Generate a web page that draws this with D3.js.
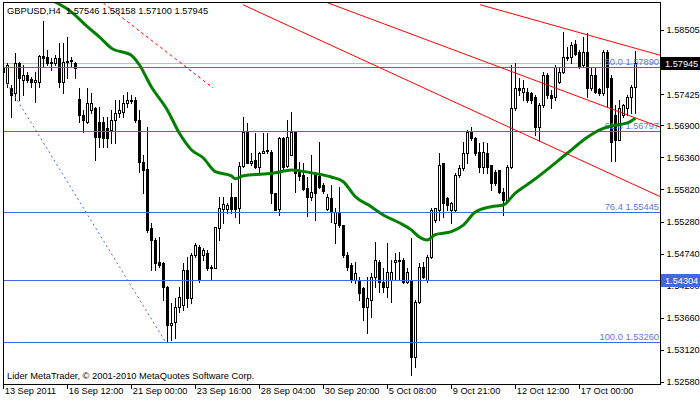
<!DOCTYPE html>
<html><head><meta charset="utf-8">
<script src="https://cdn.jsdelivr.net/npm/d3@7"></script>
<style>
html,body{margin:0;padding:0;background:#fff;}
svg{display:block;font-family:"Liberation Sans",Arial,sans-serif;}
</style></head><body>
<svg id="c" width="700" height="402"></svg>
<script>
const headerText = "GBPUSD,H4  1.57546 1.58158 1.57100 1.57945";
const copyrightText = "Lider MetaTrader, \u00a9 2001-2010 MetaQuotes Software Corp.";

const opens = [
1.5787,1.5761,1.5753,1.5744,1.5795,1.5766,1.5775,1.5768,1.5763,1.5763,
1.5807,1.5805,1.5795,1.5795,1.5803,1.5763,1.5797,1.5798,1.5795,1.5734,
1.5707,1.5696,1.5716,1.5719,1.5696,1.5696,1.5686,1.5682,1.5699,1.5711,
1.5713,1.5728,1.5733,1.5733,1.5699,1.5628,1.5617,1.5517,1.5497,1.5460,
1.5458,1.5418,1.5354,1.5359,1.5384,1.5388,1.5447,1.5399,1.5472,1.5485,
1.5472,1.5475,1.5452,1.5450,1.5517,1.5549,1.5549,1.5570,1.5570,1.5551,
1.5622,1.5679,1.5627,1.5632,1.5620,1.5643,1.5647,1.5645,1.5576,1.5549,
1.5669,1.5622,1.5640,1.5679,1.5612,1.5606,1.5585,1.5570,1.5606,1.5605,
1.5590,1.5549,1.5568,1.5526,1.5543,1.5522,1.5472,1.5455,1.5430,1.5430,
1.5416,1.5384,1.5396,1.5435,1.5460,1.5426,1.5418,1.5430,1.5460,1.5462,
1.5463,1.5426,1.5430,1.5300,1.5393,1.5452,1.5430,1.5469,1.5531,1.5548,
1.5627,1.5568,1.5548,1.5548,1.5606,1.5618,1.5643,1.5679,1.5669,1.5645,
1.5620,1.5643,1.5623,1.5612,1.5615,1.5578,1.5564,1.5620,1.5719,1.5753,
1.5746,1.5746,1.5744,1.5738,1.5687,1.5724,1.5775,1.5741,1.5738,1.5763,
1.5780,1.5805,1.5805,1.5827,1.5813,1.5792,1.5813,1.5753,1.5775,1.5751,
1.5744,1.5813,1.5770,1.5707,1.5665,1.5707,1.5719,1.5738,1.57546];
const highs = [
1.5792,1.5795,1.5758,1.5812,1.5797,1.5792,1.5780,1.5771,1.5780,1.5808,
1.5866,1.5817,1.5803,1.5808,1.5829,1.5829,1.5839,1.5805,1.5797,1.5753,
1.5716,1.5753,1.5744,1.5721,1.5721,1.5704,1.5704,1.5716,1.5733,1.5733,
1.5741,1.5746,1.5741,1.5738,1.5716,1.5640,1.5687,1.5526,1.5501,1.5502,
1.5460,1.5420,1.5391,1.5399,1.5418,1.5458,1.5469,1.5475,1.5492,1.5489,
1.5484,1.5480,1.5455,1.5519,1.5570,1.5570,1.5559,1.5593,1.5570,1.5628,
1.5704,1.5694,1.5643,1.5677,1.5645,1.5677,1.5677,1.5649,1.5576,1.5670,
1.5670,1.5699,1.5713,1.5679,1.5628,1.5627,1.5603,1.5640,1.5612,1.5662,
1.5593,1.5575,1.5590,1.5551,1.5586,1.5522,1.5477,1.5458,1.5460,1.5435,
1.5418,1.5435,1.5442,1.5494,1.5463,1.5450,1.5492,1.5463,1.5475,1.5477,
1.5467,1.5450,1.5501,1.5396,1.5458,1.5460,1.5472,1.5551,1.5551,1.5643,
1.5627,1.5570,1.5561,1.5610,1.5623,1.5662,1.5682,1.5687,1.5670,1.5660,
1.5662,1.5660,1.5623,1.5615,1.5615,1.5585,1.5623,1.5792,1.5795,1.5770,
1.5766,1.5753,1.5746,1.5741,1.5728,1.5780,1.5778,1.5750,1.5792,1.5788,
1.5847,1.5822,1.5830,1.5834,1.5817,1.5839,1.5845,1.5788,1.5787,1.5753,
1.5817,1.5817,1.5775,1.5724,1.5733,1.5726,1.5741,1.5758,1.58158];
const lows = [
1.5766,1.5755,1.5704,1.5733,1.5733,1.5741,1.5763,1.5755,1.5729,1.5755,
1.5788,1.5792,1.5783,1.5792,1.5755,1.5744,1.5770,1.5788,1.5770,1.5696,
1.5679,1.5694,1.5711,1.5632,1.5654,1.5654,1.5654,1.5660,1.5660,1.5704,
1.5704,1.5721,1.5728,1.5696,1.5612,1.5576,1.5511,1.5447,1.5447,1.5452,
1.5396,1.5326,1.5329,1.5332,1.5376,1.5379,1.5384,1.5391,1.5469,1.5426,
1.5463,1.5447,1.5430,1.5450,1.5497,1.5526,1.5543,1.5543,1.5536,1.5526,
1.5620,1.5627,1.5623,1.5618,1.5610,1.5643,1.5643,1.5559,1.5548,1.5539,
1.5615,1.5620,1.5640,1.5578,1.5598,1.5581,1.5537,1.5564,1.5531,1.5585,
1.5576,1.5548,1.5527,1.5492,1.5519,1.5469,1.5447,1.5426,1.5425,1.5396,
1.5362,1.5341,1.5368,1.5418,1.5410,1.5410,1.5401,1.5393,1.5430,1.5430,
1.5425,1.5425,1.5270,1.5283,1.5391,1.5433,1.5426,1.5467,1.5527,1.5531,
1.5536,1.5548,1.5526,1.5544,1.5603,1.5615,1.5627,1.5665,1.5640,1.5612,
1.5610,1.5610,1.5581,1.5590,1.5576,1.5539,1.5561,1.5618,1.5716,1.5741,
1.5733,1.5729,1.5728,1.5674,1.5665,1.5721,1.5736,1.5719,1.5733,1.5761,
1.5778,1.5800,1.5795,1.5808,1.5787,1.5788,1.5738,1.5750,1.5744,1.5741,
1.5741,1.5721,1.5630,1.5630,1.5665,1.5704,1.5707,1.5711,1.57100];
const closes = [
1.5780,1.5792,1.5741,1.5795,1.5770,1.5775,1.5766,1.5763,1.5766,1.5807,
1.5803,1.5795,1.5797,1.5803,1.5763,1.5797,1.5798,1.5800,1.5787,1.5707,
1.5699,1.5728,1.5728,1.5670,1.5670,1.5669,1.5669,1.5699,1.5711,1.5716,
1.5728,1.5733,1.5731,1.5699,1.5628,1.5615,1.5514,1.5497,1.5458,1.5455,
1.5418,1.5354,1.5357,1.5384,1.5401,1.5447,1.5399,1.5472,1.5489,1.5430,
1.5480,1.5450,1.5450,1.5519,1.5551,1.5558,1.5556,1.5549,1.5549,1.5622,
1.5679,1.5627,1.5630,1.5620,1.5643,1.5647,1.5649,1.5576,1.5548,1.5669,
1.5620,1.5670,1.5679,1.5610,1.5605,1.5583,1.5570,1.5578,1.5576,1.5586,
1.5580,1.5570,1.5544,1.5544,1.5522,1.5472,1.5452,1.5430,1.5442,1.5408,
1.5384,1.5399,1.5435,1.5463,1.5426,1.5418,1.5443,1.5443,1.5463,1.5463,
1.5426,1.5443,1.5300,1.5393,1.5452,1.5435,1.5469,1.5548,1.5551,1.5623,
1.5559,1.5556,1.5559,1.5606,1.5618,1.5643,1.5679,1.5669,1.5643,1.5620,
1.5645,1.5620,1.5593,1.5593,1.5578,1.5564,1.5620,1.5719,1.5753,1.5750,
1.5753,1.5733,1.5733,1.5687,1.5724,1.5775,1.5741,1.5736,1.5788,1.5780,
1.5805,1.5803,1.5825,1.5810,1.5788,1.5813,1.5753,1.5775,1.5746,1.5744,
1.5813,1.5755,1.5662,1.5665,1.5719,1.5724,1.5738,1.5755,1.57945];

const timeLabels = ["13 Sep 2011","16 Sep 12:00","21 Sep 00:00","23 Sep 16:00","28 Sep 04:00","30 Sep 20:00","5 Oct 08:00","9 Oct 21:00","12 Oct 12:00","17 Oct 00:00"];
const timeLabelBars = [0,16,32,48,64,80,96,112,128,144];
const priceTicks = [1.58505,1.57425,1.56900,1.56360,1.55820,1.55280,1.54740,1.54200,1.53660,1.53120,1.52580];

const fibLevels = ["50.0","61.8","76.4","100.0"];
const fibPrices = [1.57890,1.56797,1.55445,1.53260];
const hLinePrice = 1.54304;
const bidPrice = 1.57945;

const maBars = [12,17,21,24,27,32,34,37,41,44,47,50,53,57,58,60,65,68,72,77,82,85,88,92,95,99,102,104,106,108,112,115,118,122,125,128,132,141,146,149,152,156,158];
const maPrices = [1.5901,1.5881,1.5856,1.5839,1.5820,1.5808,1.5792,1.5755,1.5716,1.5677,1.5649,1.5635,1.5612,1.5605,1.5600,1.5605,1.5608,1.5610,1.5615,1.5610,1.5603,1.5595,1.5570,1.5553,1.5539,1.5526,1.5514,1.5502,1.5497,1.5506,1.5511,1.5522,1.5544,1.5553,1.5556,1.5576,1.5595,1.5643,1.5670,1.5682,1.5689,1.5694,1.5702];

// trend lines: [bar1, price1, bar2, price2]
const channelLines = [[59.9,1.5893,164.2,1.5570],[79.2,1.5901,164.2,1.5687],[119.2,1.5893,164.2,1.5808]];
const redDashedLine = [25,1.5896,52.4,1.5753];
const fibTrendLine = [0.9,1.5761,40.4,1.5327];

const svg = d3.select("#c");
const pL = 3, pT = 2, pR = 660, pB = 384;

const x = d3.scaleLinear().domain([0,164]).range([3.3,659.3]);
const y = d3.scaleLinear().domain([1.52546,1.58976]).range([pB, pT]);
const px = v => Math.round(v) + 0.5;

svg.append("defs").append("clipPath").attr("id","plot")
  .append("rect").attr("x",pL).attr("y",pT).attr("width",pR-pL).attr("height",pB-pT);

const plot = svg.append("g").attr("clip-path","url(#plot)");

// bid line
plot.append("line").attr("x1",pL).attr("x2",pR)
  .attr("y1",px(y(bidPrice))).attr("y2",px(y(bidPrice)))
  .attr("stroke","#c0c0c0").attr("stroke-width",1).attr("shape-rendering","crispEdges");

// candles
const bars = d3.range(opens.length).map(i => ({i, o:opens[i], h:highs[i], l:lows[i], c:closes[i]}));
const cg = plot.append("g").attr("shape-rendering","crispEdges");
bars.forEach(d => {
  const cx = Math.round(x(d.i));
  cg.append("line").attr("x1",cx+0.5).attr("x2",cx+0.5)
    .attr("y1",Math.round(y(d.h))).attr("y2",Math.round(y(d.l))+1)
    .attr("stroke","#000");
  const yt = Math.round(y(Math.max(d.o,d.c)));
  const yb = Math.round(y(Math.min(d.o,d.c)));
  if (yb - yt < 1) {
    cg.append("line").attr("x1",cx-1).attr("x2",cx+2).attr("y1",yt+0.5).attr("y2",yt+0.5).attr("stroke","#000");
  } else {
    cg.append("rect").attr("x",cx-0.5).attr("y",yt+0.5).attr("width",2).attr("height",yb-yt)
      .attr("fill", d.c >= d.o ? "#fff" : "#000").attr("stroke","#000");
  }
});

// horizontal fib lines + hline
const blue = "#4169e1";
fibPrices.concat([hLinePrice]).forEach(p => {
  plot.append("line").attr("x1",pL).attr("x2",pR)
    .attr("y1",px(y(p))).attr("y2",px(y(p)))
    .attr("stroke",blue).attr("stroke-width",1).attr("shape-rendering","crispEdges");
});
fibPrices.forEach((p,k) => {
  plot.append("text").attr("x",659).attr("y",Math.round(y(p))-2)
    .attr("text-anchor","end").attr("font-size","9.3px").attr("fill","#5b78e6")
    .text(fibLevels[k] + " " + p.toFixed(5));
});

// trend lines
channelLines.forEach(l => {
  plot.append("line").attr("x1",x(l[0])).attr("y1",y(l[1])).attr("x2",x(l[2])).attr("y2",y(l[3]))
    .attr("stroke","#ff0000").attr("stroke-width",1);
});
plot.append("line").attr("x1",x(redDashedLine[0])).attr("y1",y(redDashedLine[1]))
  .attr("x2",x(redDashedLine[2])).attr("y2",y(redDashedLine[3]))
  .attr("stroke","#ff0000").attr("stroke-width",1).attr("stroke-dasharray","3,3");
plot.append("line").attr("x1",x(fibTrendLine[0])).attr("y1",y(fibTrendLine[1]))
  .attr("x2",x(fibTrendLine[2])).attr("y2",y(fibTrendLine[3]))
  .attr("stroke",blue).attr("stroke-width",1).attr("stroke-dasharray","2,3");

// moving average
const maLine = d3.line().x(d => x(d[0])).y(d => y(d[1])).curve(d3.curveMonotoneX);
plot.append("path").datum(maBars.map((b,k)=>[b,maPrices[k]]))
  .attr("d",maLine).attr("fill","none").attr("stroke","#008000").attr("stroke-width",3);

// frame
svg.append("rect").attr("x",pL+0.5).attr("y",pT+0.5).attr("width",pR-pL).attr("height",pB-pT)
  .attr("fill","none").attr("stroke","#000").attr("shape-rendering","crispEdges");

// right axis
const yAxis = d3.axisRight(y).tickValues(priceTicks).tickSize(3).tickSizeOuter(0).tickPadding(3)
  .tickFormat(d3.format(".5f"));
const ya = svg.append("g").attr("transform",`translate(${pR+0.5},0)`).call(yAxis);
ya.select(".domain").remove();
ya.selectAll(".tick line").attr("stroke","#000").attr("shape-rendering","crispEdges");
ya.selectAll(".tick text").attr("font-size","9.2px").attr("fill","#000")
  .attr("font-family","Liberation Sans, Arial, sans-serif");

// bottom axis
const xAxis = d3.axisBottom(x).tickValues(timeLabelBars).tickSize(4).tickSizeOuter(0)
  .tickFormat((d,k) => timeLabels[k]);
const xa = svg.append("g").attr("transform",`translate(0,${pB+0.5})`).call(xAxis);
xa.select(".domain").remove();
xa.selectAll(".tick line").attr("stroke","#000").attr("shape-rendering","crispEdges");
xa.selectAll(".tick text").attr("font-size","9.2px").attr("fill","#000")
  .attr("text-anchor","start").attr("x",1).attr("y",3).attr("dy","0.71em")
  .attr("font-family","Liberation Sans, Arial, sans-serif");

// price boxes on axis
function priceBox(p, bg) {
  const yy = Math.round(y(p));
  svg.append("rect").attr("x",661).attr("y",yy-6).attr("width",39).attr("height",13).attr("fill",bg);
  svg.append("text").attr("x",665).attr("y",yy+3.5).attr("font-size","9.2px").attr("fill","#fff").text(p.toFixed(5));
}
priceBox(bidPrice, "#000");
priceBox(hLinePrice, blue);

// header and copyright
svg.append("text").attr("x",7).attr("y",14).attr("font-size","9.3px").attr("fill","#000")
  .attr("xml:space","preserve").style("white-space","pre").text(headerText);
svg.append("text").attr("x",7).attr("y",379).attr("font-size","9.3px").attr("fill","#000").text(copyrightText);
</script>
</body></html>
